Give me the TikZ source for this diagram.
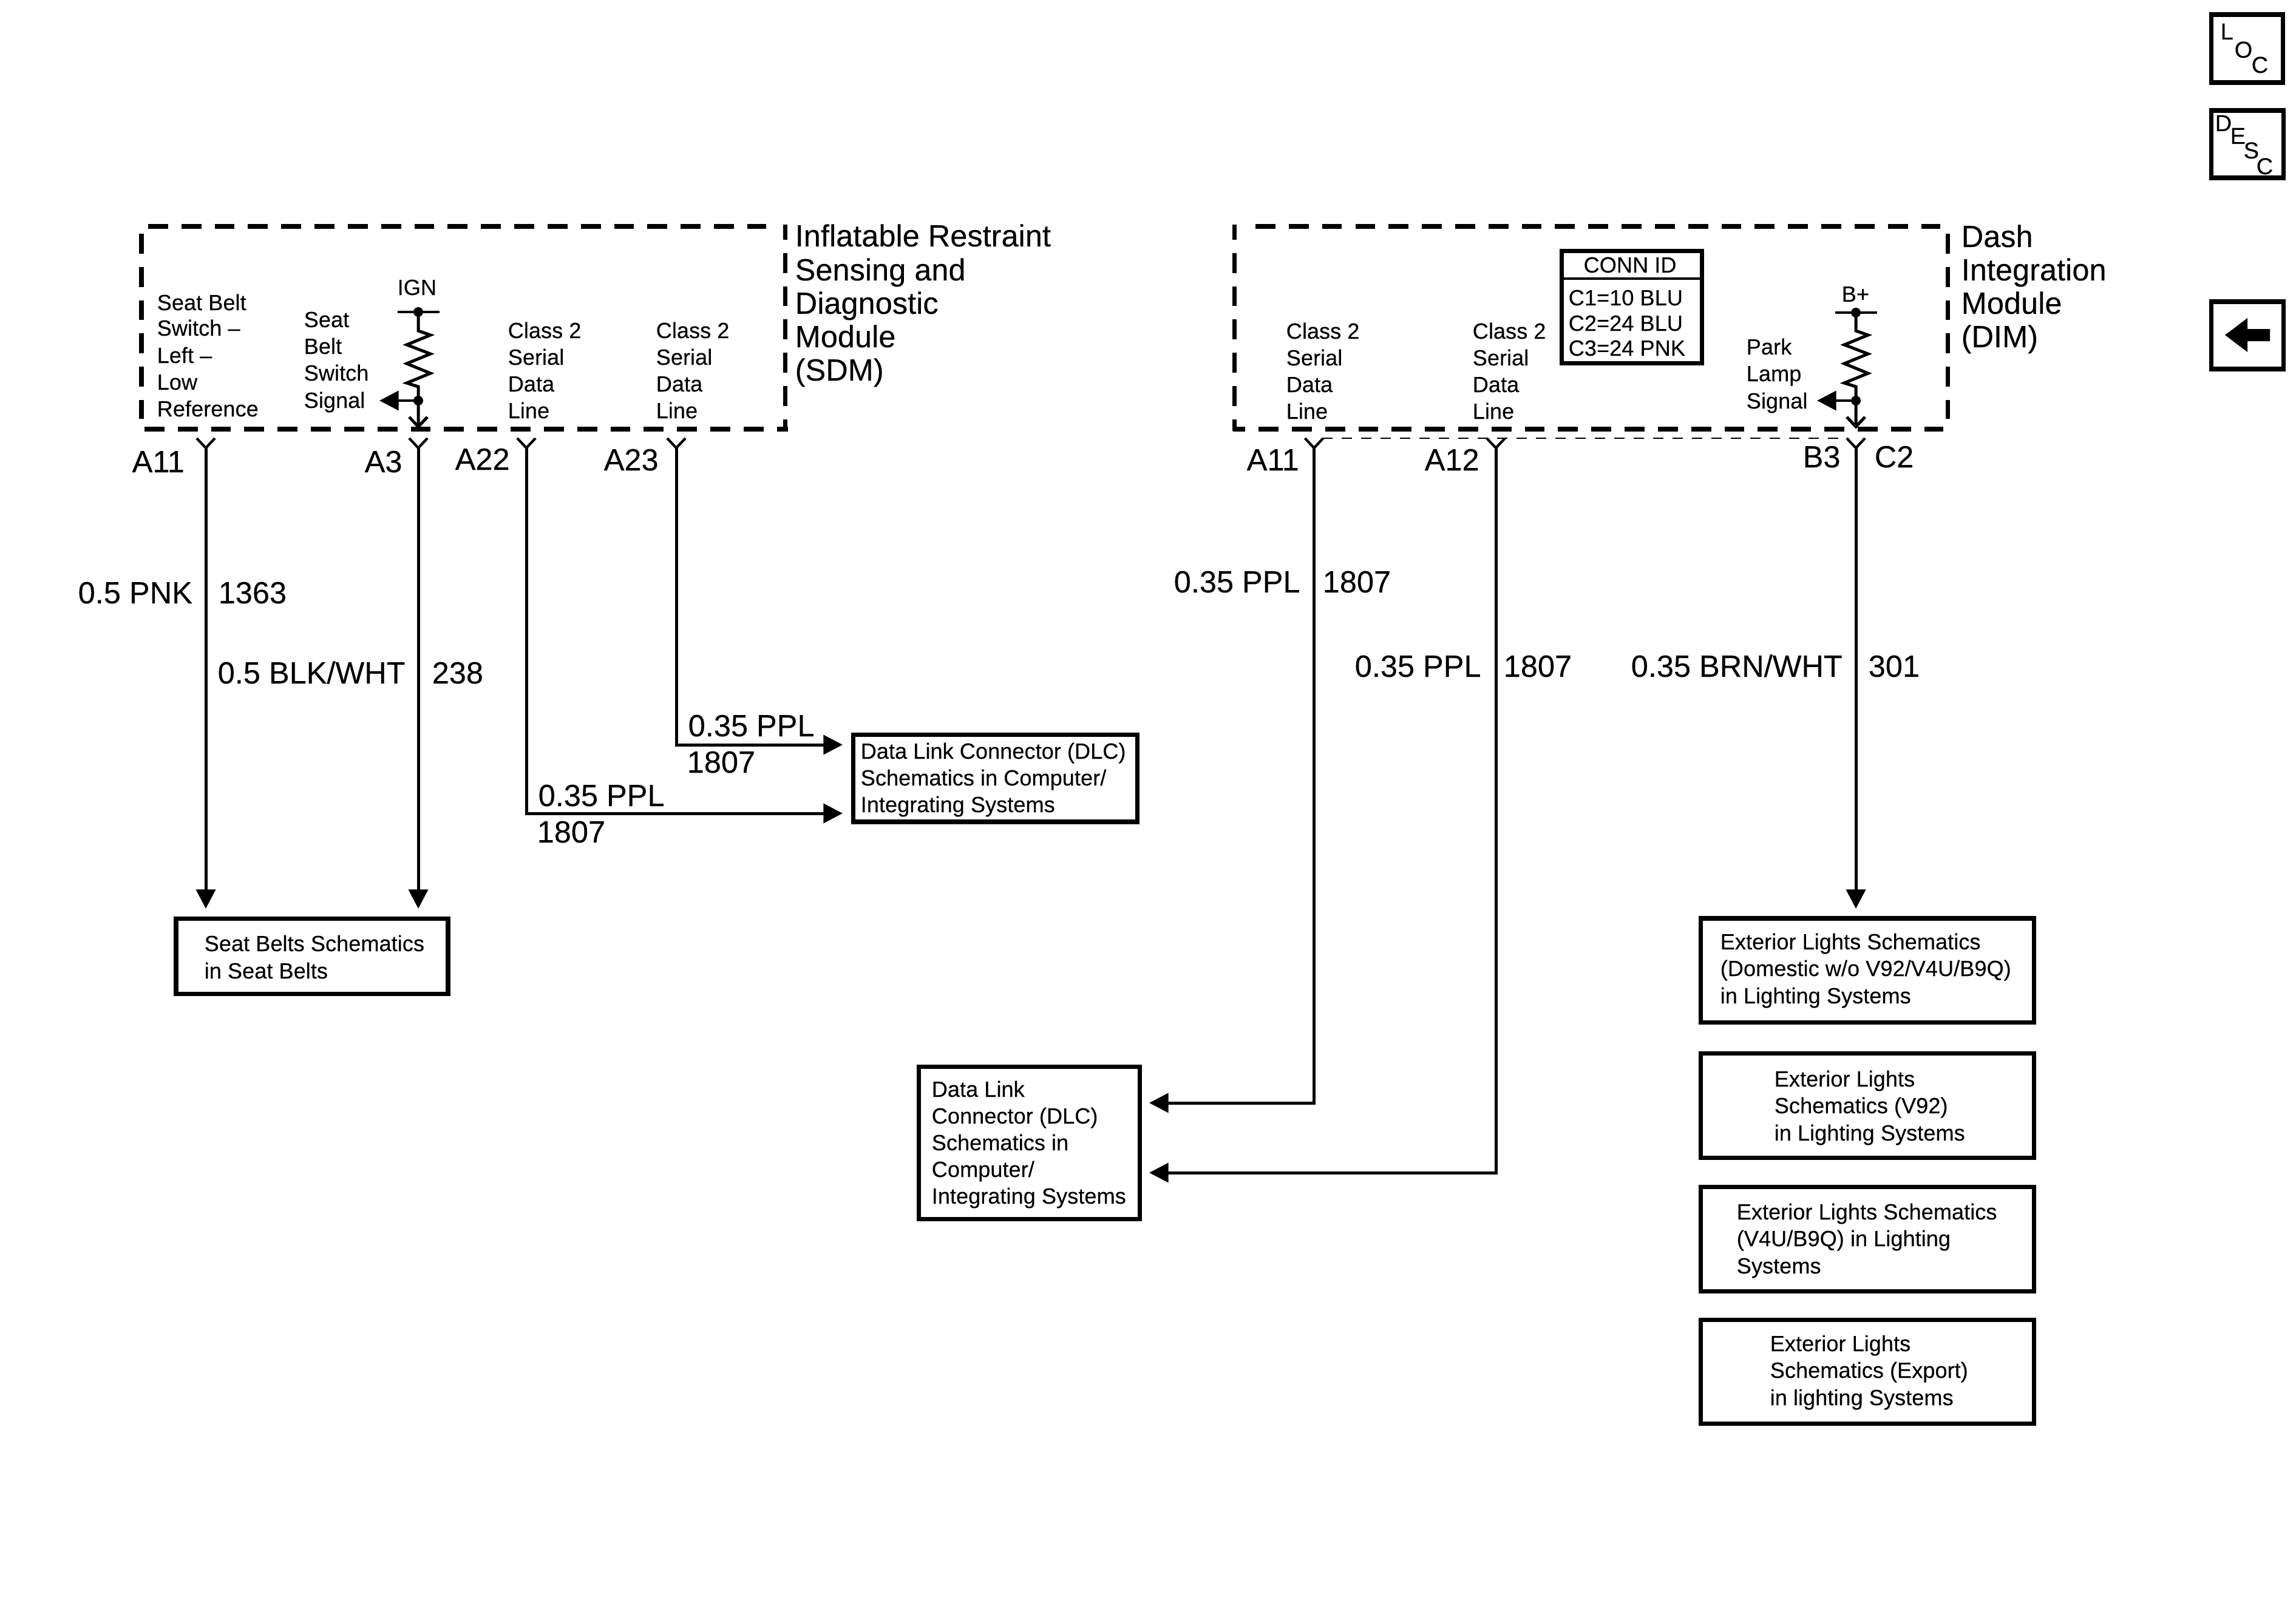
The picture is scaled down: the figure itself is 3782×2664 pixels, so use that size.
\documentclass[tikz,border=0pt]{standalone}
\usepackage{fontspec}
\setmainfont[FakeBold=0.12]{Liberation Sans}
\usetikzlibrary{arrows.meta}
\newcommand\smallf{\fontsize{10.3}{12.6}\selectfont}
\newcommand\bigf{\fontsize{14.37}{15.65}\selectfont}
\newcommand\iconf{\fontsize{10.8}{12}\selectfont}
\tikzset{
  wire/.style={line width=1.42pt,line join=miter},
  wiretip/.style={wire,-{Triangle[length=9pt,width=9pt]}},
  modside/.style={line width=2pt,dash pattern=on 9.33pt off 6.26pt},
  shield/.style={line width=0.85pt,dash pattern=on 4.84pt off 4.27pt},
  sbox/.style={draw,line width=2pt,inner sep=0pt,rectangle},
  stxt/.style={font=\smallf,inner sep=0pt,anchor=base west,align=left,xshift=-0.02cm},
  btxt/.style={font=\bigf,inner sep=0pt,anchor=base west,align=left,xshift=-0.02cm},
  itxt/.style={font=\iconf,inner sep=0pt,anchor=base west,xshift=-0.03cm},
}
\newcommand\boxnode[5]{\node[sbox,minimum width={(#4-#2)*0.01cm},minimum height={(#5-#3)*0.01cm}] (#1) at ({(#2+#4)/2},{(#3+#5)/2}) {};}
\newcommand\pinY[2]{%
  \coordinate (#1) at (#2,738);
  \draw[wire,line width=1.2pt] (#2-15,722) -- (#1) -- (#2+15,722);
}
\newcommand\pullup[3]{%
  \coordinate (#1bar) at (#2,#3);
  \coordinate (#1tap) at (#2,660);
  \coordinate (#1end) at (#2,703);
  \coordinate (#1out) at (#2-64,660);
  \draw[wire] (#2-34,#3) -- (#2+35,#3);
  \fill (#1bar) circle[radius=8];
  \fill (#1tap) circle[radius=8];
  \draw[wire] (#1bar) -- (#2,545) -- ++(20,7) -- ++(-39,16) -- ++(39,15) -- ++(-39,16) -- ++(39,16) -- ++(-39,16) -- ++(19,6) -- (#1end);
  \draw[wire] (#2-15,687) -- (#1end) -- (#2+15,687);
  \draw[wiretip] (#1tap) -- (#1out);
}
\begin{document}
\begin{tikzpicture}[x=0.01cm,y=-0.01cm]
\useasboundingbox (0,0) rectangle (3782,2664);
\fill[white] (0,0) rectangle (3782,2664);

% SDM module outline
\draw[modside] (244,373) -- (1262,373);
\draw[modside] (238,707) -- (1298,707);
\draw[modside] (233,385) -- (233,690);
\draw[modside,dash phase=2.28pt] (1293,370) -- (1293,710);
\node[btxt] (sdm) at (1311,406) {Inflatable Restraint};
\node[btxt] (sdm2) at (1311,462) {Sensing and};
\node[btxt] (sdm3) at (1311,517) {Diagnostic};
\node[btxt] (sdm4) at (1311,572) {Module};
\node[btxt] (sdm5) at (1311,627) {(SDM)};

% DIM module outline
\draw[modside] (2068,373) -- (3196,373);
\draw[modside,dash phase=3.64pt] (2031,707) -- (3201,707);
\draw[modside,dash phase=2.28pt] (2033,370) -- (2033,710);
\draw[modside] (3208,385) -- (3208,690);
\node[btxt] (dim) at (3232,407) {Dash};
\node[btxt] (dim2) at (3232,462) {Integration};
\node[btxt] (dim3) at (3232,517) {Module};
\node[btxt] (dim4) at (3232,572) {(DIM)};

% SDM inner labels
\node[stxt] (t1a) at (260,511) {Seat Belt};
\node[stxt] (t1b) at (260,553) {Switch –};
\node[stxt] (t1c) at (260,598) {Left –};
\node[stxt] (t1d) at (260,642) {Low};
\node[stxt] (t1e) at (260,686) {Reference};
\node[stxt] (t2a) at (502,539) {Seat};
\node[stxt] (t2b) at (502,583) {Belt};
\node[stxt] (t2c) at (502,627) {Switch};
\node[stxt] (t2d) at (502,672) {Signal};
\node[stxt] (ign) at (656,486) {IGN};
\node[stxt] (t3a) at (838,557) {Class 2};
\node[stxt] (t3b) at (838,601) {Serial};
\node[stxt] (t3c) at (838,645) {Data};
\node[stxt] (t3d) at (838,689) {Line};
\node[stxt] (t4a) at (1082,557) {Class 2};
\node[stxt] (t4b) at (1082,601) {Serial};
\node[stxt] (t4c) at (1082,645) {Data};
\node[stxt] (t4d) at (1082,689) {Line};
\pullup{ps}{689}{514}

% DIM inner labels
\node[stxt] (t5a) at (2120,558) {Class 2};
\node[stxt] (t5b) at (2120,602) {Serial};
\node[stxt] (t5c) at (2120,646) {Data};
\node[stxt] (t5d) at (2120,690) {Line};
\node[stxt] (t6a) at (2427,558) {Class 2};
\node[stxt] (t6b) at (2427,602) {Serial};
\node[stxt] (t6c) at (2427,646) {Data};
\node[stxt] (t6d) at (2427,690) {Line};
\node[stxt] (t7a) at (2878,584) {Park};
\node[stxt] (t7b) at (2878,628) {Lamp};
\node[stxt] (t7c) at (2878,673) {Signal};
\node[stxt] (bplus) at (3035,497) {B+};
\pullup{pd}{3057}{515}

% CONN ID table
\boxnode{connid}{2572.5}{413.5}{2803}{598.5}
\draw[line width=1.3pt] (connid.west |- 0,459) -- (connid.east |- 0,459);
\node[stxt,anchor=base] (connh) at (2687,449) {CONN ID};
\node[stxt] (c1) at (2585,503) {C1=10 BLU};
\node[stxt] (c2) at (2585,545) {C2=24 BLU};
\node[stxt] (c3) at (2585,586) {C3=24 PNK};

% Shield
\draw[shield] (2178,722) -- (3040,722);

% Pin marks
\pinY{sA11}{339}
\pinY{sA3}{689}
\pinY{sA22}{867}
\pinY{sA23}{1114}
\pinY{dA11}{2164.5}
\pinY{dA12}{2464}
\pinY{dB3}{3057}

% Pin labels
\node[btxt] (la11) at (219,778) {A11};
\node[btxt] (la3) at (602,778) {A3};
\node[btxt] (la22) at (751,774) {A22};
\node[btxt] (la23) at (996,775) {A23};
\node[btxt] (lb11) at (2055,775) {A11};
\node[btxt] (lb12) at (2348,775) {A12};
\node[btxt] (lb3) at (2971,770) {B3};
\node[btxt] (lc2) at (3089,770) {C2};

% Target boxes
\boxnode{seat}{290}{1513.5}{738}{1637.5}
\node[stxt] (seat1) at (338,1567) {Seat Belts Schematics};
\node[stxt] (seat2) at (338,1612) {in Seat Belts};

\boxnode{dlcA}{1405}{1210.5}{1873}{1354}
\node[stxt] (dlca1) at (1419,1250) {Data Link Connector (DLC)};
\node[stxt] (dlca2) at (1419,1294) {Schematics in Computer/};
\node[stxt] (dlca3) at (1419,1338) {Integrating Systems};

\boxnode{dlcB}{1513}{1757}{1877}{2008.5}
\node[stxt] (dlcb1) at (1536,1807) {Data Link};
\node[stxt] (dlcb2) at (1536,1851) {Connector (DLC)};
\node[stxt] (dlcb3) at (1536,1895) {Schematics in};
\node[stxt] (dlcb4) at (1536,1939) {Computer/};
\node[stxt] (dlcb5) at (1536,1983) {Integrating Systems};

\boxnode{ext1}{2801}{1513}{3350}{1684.5}
\node[stxt] (e1a) at (2835,1564) {Exterior Lights Schematics};
\node[stxt] (e1b) at (2835,1608) {(Domestic w/o V92/V4U/B9Q)};
\node[stxt] (e1c) at (2835,1653) {in Lighting Systems};
\boxnode{ext2}{2801}{1735.5}{3350}{1907}
\node[stxt] (e2a) at (2924,1790) {Exterior Lights};
\node[stxt] (e2b) at (2924,1834) {Schematics (V92)};
\node[stxt] (e2c) at (2924,1879) {in Lighting Systems};
\boxnode{ext3}{2801}{1955.5}{3350}{2127}
\node[stxt] (e3a) at (2862,2009) {Exterior Lights Schematics};
\node[stxt] (e3b) at (2862,2053) {(V4U/B9Q) in Lighting};
\node[stxt] (e3c) at (2862,2098) {Systems};
\boxnode{ext4}{2801}{2174.5}{3350}{2345.5}
\node[stxt] (e4a) at (2917,2226) {Exterior Lights};
\node[stxt] (e4b) at (2917,2270) {Schematics (Export)};
\node[stxt] (e4c) at (2917,2315) {in lighting Systems};

% Connector free ends
\coordinate (tipS1) at (339,1497);
\coordinate (tipS2) at (689,1497);
\coordinate (tipD1) at (1388,1227);
\coordinate (tipD2) at (1388,1340);
\coordinate (tipD3) at (1893,1817);
\coordinate (tipD4) at (1893,1932);
\coordinate (tipE) at (3057,1497);

\draw[wiretip] (sA11) -- (tipS1);
\draw[wiretip] (sA3) -- (tipS2);
\draw[wiretip] (sA23) |- (tipD1);
\draw[wiretip] (sA22) |- (tipD2);
\draw[wiretip] (dA11) |- (tipD3);
\draw[wiretip] (dA12) |- (tipD4);
\draw[wiretip] (dB3) -- (tipE);

% Wire labels
\node[btxt] (w1) at (130,994) {0.5 PNK};
\node[btxt] (w2) at (361,994) {1363};
\node[btxt] (w3) at (360,1126) {0.5 BLK/WHT};
\node[btxt] (w4) at (713,1126) {238};
\node[btxt] (w5) at (1135,1213) {0.35 PPL};
\node[btxt] (w6) at (1133,1273) {1807};
\node[btxt] (w7) at (888,1328) {0.35 PPL};
\node[btxt] (w8) at (886,1388) {1807};
\node[btxt] (w9) at (1935,976) {0.35 PPL};
\node[btxt] (w10) at (2180,976) {1807};
\node[btxt] (w11) at (2233,1115) {0.35 PPL};
\node[btxt] (w12) at (2478,1115) {1807};
\node[btxt] (w13) at (2688,1115) {0.35 BRN/WHT};
\node[btxt] (w14) at (3079,1115) {301};

% Icons
\boxnode{loc}{3642.5}{24}{3760.5}{136}
\node[itxt] (l1) at (3660,65) {L};
\node[itxt] (l2) at (3683,95) {O};
\node[itxt] (l3) at (3711,120) {C};
\boxnode{desc}{3642.5}{182}{3761}{293}
\node[itxt] (d1) at (3651,216) {D};
\node[itxt] (d2) at (3676,237) {E};
\node[itxt] (d3) at (3698,261) {S};
\node[itxt] (d4) at (3719,287) {C};
\boxnode{back}{3642.5}{497}{3761}{608}
\fill (3665,552) -- (3702,524) -- (3702,542) -- (3739,542) -- (3739,562) -- (3702,562) -- (3702,580) -- cycle;
\end{tikzpicture}
\end{document}
